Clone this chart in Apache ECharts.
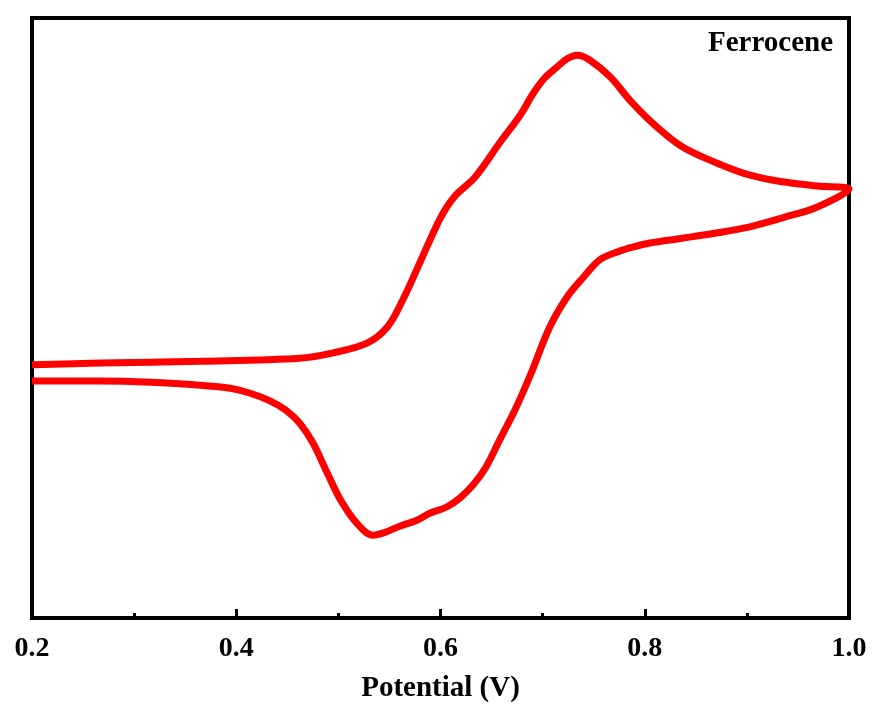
<!DOCTYPE html>
<html>
<head>
<meta charset="utf-8">
<title>Ferrocene CV</title>
<script src="https://cdn.jsdelivr.net/npm/echarts@6/dist/echarts.min.js"></script>
<style>
  html, body { margin: 0; padding: 0; background: #fff; }
  #main { width: 876px; height: 707px; }
</style>
</head>
<body>
<div id="main"></div>
<script>
// cyclic voltammogram, forward (anodic) sweep then reverse sweep
// current in arbitrary units (no y labels in the figure)
var potential = [
  0.200, 0.267, 0.365, 0.462, 0.495, 0.528, 0.548, 0.563, 0.580, 0.600,
  0.614, 0.634, 0.658, 0.678, 0.691, 0.702, 0.714, 0.724, 0.734, 0.746,
  0.766, 0.788, 0.812, 0.837, 0.871, 0.903, 0.935, 0.969, 1.000,
  0.969, 0.935, 0.903, 0.871, 0.837, 0.805, 0.788, 0.773, 0.756, 0.740,
  0.724, 0.707, 0.688, 0.673, 0.658, 0.644, 0.632, 0.619, 0.606, 0.590,
  0.577, 0.560, 0.546, 0.534, 0.518, 0.502, 0.489, 0.475, 0.462, 0.448,
  0.433, 0.413, 0.394, 0.365, 0.316, 0.267, 0.200
];
var current = [
  42.2, 42.5, 42.8, 43.3, 44.2, 45.8, 48.5, 53.0, 59.3, 66.7,
  70.3, 73.5, 79.2, 83.8, 87.5, 90.0, 91.8, 93.2, 93.8, 93.0,
  90.2, 85.8, 81.8, 78.5, 75.8, 73.8, 72.7, 72.0, 71.5,
  68.5, 66.7, 65.2, 64.2, 63.3, 62.5, 61.8, 61.0, 59.7, 56.8,
  53.5, 48.5, 40.5, 34.7, 29.7, 25.0, 22.2, 20.0, 18.5, 17.5,
  16.3, 15.3, 14.3, 13.8, 15.8, 19.7, 24.2, 29.2, 32.5, 34.7,
  36.2, 37.5, 38.3, 38.8, 39.3, 39.5, 39.5
];
var xTicks = [0.2, 0.4, 0.6, 0.8, 1.0];

var points = potential.map(function (v, i) { return [v, current[i]]; });

var serif = '"Liberation Serif", "DejaVu Serif", serif';
var myChart = echarts.init(document.getElementById('main'));

var option = {
  animation: false,
  backgroundColor: '#fff',
  title: {
    text: 'Ferrocene',
    right: 38,
    top: 24,
    textStyle: { fontFamily: serif, fontWeight: 'bold', fontSize: 29, color: '#000' }
  },
  grid: {
    left: 32, right: 27, top: 18, bottom: 89,
    outerBoundsMode: 'none',
    show: true, borderColor: '#000', borderWidth: 4
  },
  xAxis: {
    type: 'value',
    min: 0.2, max: 1.0, interval: 0.2,
    name: 'Potential (V)',
    nameLocation: 'middle',
    nameGap: 56,
    nameTextStyle: { fontFamily: serif, fontWeight: 'bold', fontSize: 29, color: '#000' },
    axisLine: { show: true, lineStyle: { color: '#000', width: 4 } },
    axisTick: { show: true, inside: true, length: 9, lineStyle: { color: '#000', width: 3 } },
    minorTick: { show: true, splitNumber: 2, length: 5, lineStyle: { color: '#000', width: 3 } },
    splitLine: { show: false },
    axisLabel: {
      margin: 17,
      fontFamily: serif, fontWeight: 'bold', fontSize: 28, color: '#000',
      formatter: function (v) {
        var t = xTicks.find(function (k) { return Math.abs(k - v) < 1e-6; });
        return t === undefined ? '' : t.toFixed(1);
      }
    }
  },
  yAxis: {
    type: 'value',
    min: 0, max: 100,
    axisLine: { show: true, lineStyle: { color: '#000', width: 4 } },
    axisTick: { show: false },
    axisLabel: { show: false },
    splitLine: { show: false }
  },
  series: [{
    type: 'line',
    data: points,
    smooth: 0.35,
    showSymbol: false,
    lineStyle: { color: '#ff0000', width: 7 },
    itemStyle: { color: '#ff0000' }
  }]
};

myChart.setOption(option);
</script>
</body>
</html>
